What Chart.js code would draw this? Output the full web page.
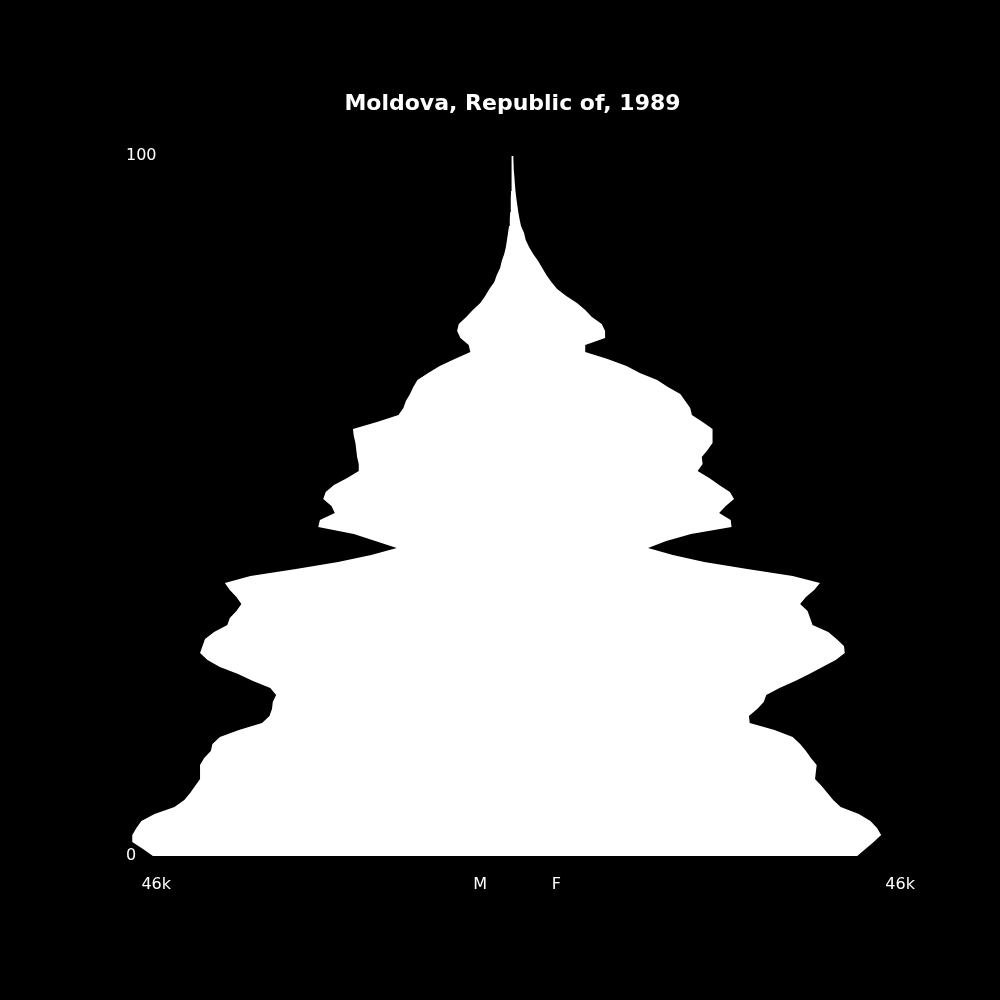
<!DOCTYPE html>
<html>
<head>
<meta charset="utf-8">
<script src="https://cdn.jsdelivr.net/npm/chart.js@4.4.1/dist/chart.umd.min.js"></script>
<style>
  html, body { margin: 0; padding: 0; background: #000; }
  canvas { display: block; }
</style>
</head>
<body>
<canvas id="pyramid" width="1000" height="1000"></canvas>
<script>
// Single-year ages 0..100
const ages = Array.from({ length: 101 }, (_, i) => i);

// Population in thousands
const maleK = [
  43.5, 44.7, 46.0, 46.0, 45.5, 44.9, 43.3, 40.9, 39.7, 39.0,
  38.4, 37.8, 37.8, 37.8, 37.3, 36.5, 36.3, 35.4, 33.1, 30.3,
  29.4, 29.1, 29.0, 28.6, 29.3, 31.4, 33.2, 35.4, 36.9, 37.8,
  37.5, 37.2, 36.1, 34.5, 34.2, 33.4, 32.8, 33.4, 34.2, 34.8,
  31.7, 26.2, 21.1, 17.1, 14.0, 16.6, 19.2, 23.5, 23.3, 21.5,
  21.9, 22.9, 22.6, 21.6, 20.0, 18.6, 18.6, 18.8, 18.9, 19.0,
  19.2, 19.3, 16.4, 13.8, 13.2, 12.9, 12.4, 12.0, 11.5, 10.2,
  8.8, 7.0, 5.1, 5.3, 6.3, 6.7, 6.5, 5.6, 4.8, 3.9,
  3.3, 2.8, 2.2, 1.9, 1.5, 1.3, 1.0, 0.8, 0.67, 0.54,
  0.42, 0.33, 0.27, 0.23, 0.19, 0.17, 0.15, 0.12, 0.11, 0.10, 0.08
];
const femaleK = [
  41.7, 42.7, 43.7, 44.6, 44.1, 43.3, 41.9, 39.7, 38.8, 38.1,
  37.4, 36.6, 36.7, 36.8, 36.1, 35.5, 34.8, 33.9, 31.7, 28.7,
  28.6, 29.6, 30.4, 30.7, 32.3, 34.2, 35.9, 37.5, 39.1, 40.2,
  40.1, 39.2, 38.2, 36.3, 36.0, 35.7, 34.8, 35.5, 36.5, 37.2,
  33.9, 28.4, 23.2, 19.4, 16.4, 18.6, 21.6, 26.5, 26.4, 25.0,
  25.8, 26.8, 26.3, 25.0, 23.8, 22.4, 23.0, 22.9, 23.6, 24.2,
  24.2, 24.2, 23.0, 21.7, 21.5, 20.9, 20.3, 18.8, 17.5, 15.4,
  13.8, 11.5, 8.8, 8.8, 11.2, 11.2, 10.8, 9.6, 8.8, 7.8,
  6.5, 5.4, 4.7, 4.1, 3.6, 3.1, 2.5, 2.0, 1.6, 1.4,
  1.03, 0.85, 0.70, 0.58, 0.46, 0.36, 0.29, 0.23, 0.18, 0.13, 0.10
];

// Axis labels
const xTickValues = [-43.1, -3.9, 5.3, 46.9];
const xTickLabels = ['46k', 'M', 'F', '46k'];
const yTickValues = [0, 100];
const yTickLabels = ['0', '100'];

const tickFont = { family: 'DejaVu Sans', size: 16 };

new Chart(document.getElementById('pyramid').getContext('2d'), {
    type: 'line',
    data: {
        datasets: [{
            label: 'M',
            data: ages.map((a, i) => ({ x: -maleK[i], y: a })),
            backgroundColor: '#fff',
            borderWidth: 0,
            pointRadius: 0,
            tension: 0,
            fill: '+1'
        }, {
            label: 'F',
            data: ages.map((a, i) => ({ x: femaleK[i], y: a })),
            backgroundColor: '#fff',
            borderWidth: 0,
            pointRadius: 0,
            tension: 0,
            fill: false
        }]
    },
    options: {
        indexAxis: 'y',
        responsive: false,
        animation: false,
        devicePixelRatio: 1,
        clip: 4,
        layout: { padding: { top: 0, left: 124, right: 99, bottom: 100 } },
        plugins: {
            legend: { display: false },
            tooltip: { enabled: false },
            title: {
                display: true,
                text: 'Moldova, Republic of, 1989',
                color: '#fff',
                font: { family: 'DejaVu Sans', size: 22, weight: 'bold' },
                padding: { top: 91, bottom: 38.6 }
            }
        },
        scales: {
            x: {
                type: 'linear',
                min: -47,
                max: 47,
                grid: { display: false, drawTicks: false },
                border: { display: false },
                afterBuildTicks: (scale) => { scale.ticks = xTickValues.map(v => ({ value: v })); },
                afterFit: (scale) => { scale.height = 44; },
                ticks: {
                    color: '#fff',
                    font: tickFont,
                    padding: 19,
                    maxRotation: 0,
                    autoSkip: false,
                    callback: (value, index) => xTickLabels[index]
                }
            },
            y: {
                type: 'linear',
                min: 0,
                max: 100,
                grid: { display: false, drawTicks: false },
                border: { display: false },
                afterBuildTicks: (scale) => { scale.ticks = yTickValues.map(v => ({ value: v })); },
                afterFit: (scale) => { scale.width = 0; },
                ticks: {
                    color: '#fff',
                    font: tickFont,
                    mirror: true,
                    padding: 2,
                    autoSkip: false,
                    callback: (value, index) => yTickLabels[index]
                }
            }
        }
    }
});
</script>
</body>
</html>
